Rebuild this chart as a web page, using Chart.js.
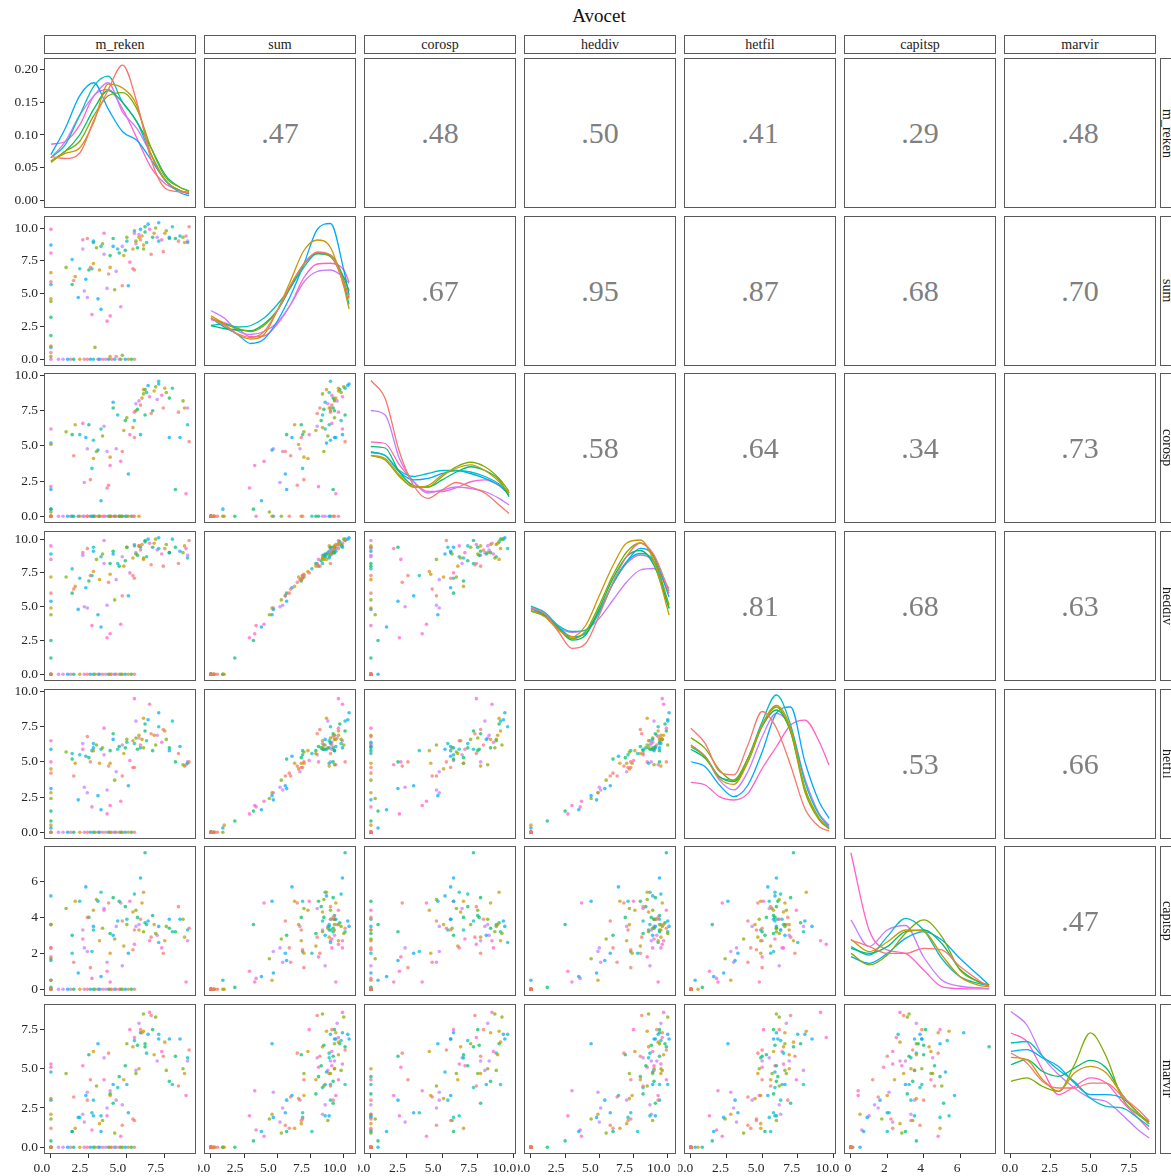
<!DOCTYPE html>
<html lang="en">
<head>
<meta charset="UTF-8">
<title>Avocet</title>
<script src="https://cdn.jsdelivr.net/npm/chart.js@4.4.1/dist/chart.umd.min.js"></script>
<style>
  body { margin: 0; background: #fff; overflow: hidden; }
  #wrap { position: relative; width: 1171px; height: 1176px; overflow: hidden; font-family: 'Liberation Serif', serif; }
  #wrap canvas { position: absolute; }
  .box { position: absolute; box-sizing: border-box; border: 1px solid #595959; pointer-events: none; z-index: 2; }
  .strip { display: flex; align-items: center; justify-content: center; font-size: 14px; color: #1a1a1a; background: #fff; }
  .vstrip { writing-mode: vertical-rl; justify-content: center; }
  .corr { position: absolute; display: flex; align-items: center; justify-content: center; font-size: 30px; color: #7f7f7f; }
  #title { position: absolute; left: 499px; width: 200px; top: 5px; text-align: center; font-size: 19px; color: #111; }
</style>
</head>
<body>
<div id="wrap"><div id="title">Avocet</div></div>

<script>
// groups (ggplot hue palette, 8 levels)
const groupColors = ['#F8766D', '#CD9600', '#7CAE00', '#00BE67', '#00BFC4', '#00A9FF', '#C77CFF', '#FF61CC'];

const varNames = ['m_reken', 'sum', 'corosp', 'heddiv', 'hetfil', 'capitsp', 'marvir'];
const varMax = [9.1, 10.4, 9.7, 10.1, 9.7, 7.6, 8.7];
const tickVals = [
    [0, 2.5, 5, 7.5], [0, 2.5, 5, 7.5, 10], [0, 2.5, 5, 7.5, 10],
    [0, 2.5, 5, 7.5, 10], [0, 2.5, 5, 7.5, 10], [0, 2, 4, 6], [0, 2.5, 5, 7.5]
];
const tickDigits = [1, 1, 1, 1, 1, 0, 1];
const xLabelShift = [-9, -9, -9, -9, -6, -3, -1];
const densTicks = [0, 0.05, 0.10, 0.15, 0.20];

// upper triangle, row by row
const corrText = ['.47', '.48', '.50', '.41', '.29', '.48',
                  '.67', '.95', '.87', '.68', '.70',
                  '.58', '.64', '.34', '.73',
                  '.81', '.68', '.63',
                  '.53', '.66',
                  '.47'];

// observations (estimated from the scatter panels)
const grp = [7,6,6,5,3,1,7,0,5,4,2,7,5,0,6,3,1,7,4,0,6,2,5,1,3,0,7,2,
    7,5,7,1,0,5,1,2,3,3,1,5,0,2,
    4,6,0,5,1,7,3,2,6,4,0,5,7,3,1,
    0,1,2,3,4,5,6,7,0,1,2,3,4,5,6,7,0,1,2,3,4,5,6,7,0,1,2,3,4,5,6,7,0,1,2,3,4,5,6,7,
    0,1,2,3,4,5,6,7,0,1,2,3,4,5,6,7,0,1,2,3,4,5,6,7,0,1,2,3,4,5,0,6,7,3,5,1,4];
const mReken = [0,0.5,0.8,1.1,1.5,1.9,2.2,2.4,2.6,2.8,2.9,3.1,3.2,3.4,3.6,3.8,3.9,4.0,4.2,4.3,4.5,4.7,4.9,5.1,5.3,5.5,1.3,4.6,
    0,0,0,0,0,0,0,0,0,0,0,0,0,0,
    1.4,2.1,2.4,2.8,3.2,3.5,3.9,4.2,4.7,5.0,5.4,1.8,2.7,4.5,5.8,
    1.5,1.6,1.0,1.4,1.9,2.3,2.4,2.1,2.6,2.8,3.0,2.5,3.3,3.1,3.5,3.7,3.8,3.9,3.4,4.1,2.8,4.1,4.3,4.6,4.7,4.8,5.0,4.9,4.4,5.1,3.7,5.2,5.5,5.4,5.6,5.7,2.7,3.3,2.2,3.9,
    5.9,6.0,6.1,6.2,6.3,6.4,5.8,6.5,6.6,6.8,6.9,6.7,7.1,7.1,7.0,7.3,7.4,7.5,7.6,7.8,8.0,8.5,9.0,8.9,9.1,8.8,8.7,8.2,9.0,7.8,8.4,5.6,5.5,6.2,5.9,6.1,5.5];
const sumScore = [0,0,0,0,0,0,0,0,0,0,0.9,0,0,0,0,0,0.2,0,0,0.2,0,0.3,0,0,0,0,0,0,
    9.9,8.7,8.1,6.6,5.9,5.7,4.6,4.4,3.2,1.8,1.0,0.9,0.5,0.2,
    7.6,8.4,9.2,8.9,6.8,9.6,7.9,5.3,8.6,9.0,6.9,4.7,3.4,8.1,9.3,
    6.0,6.3,7.0,5.7,6.9,6.1,4.7,9.1,7.0,7.3,8.5,6.8,8.6,4.6,8.0,2.9,6.5,7.0,8.8,9.2,9.0,8.6,6.7,4.0,5.6,7.9,9.3,8.3,8.4,5.6,5.4,7.4,6.8,8.4,9.0,8.5,6.9,3.8,5.2,3.3,
    9.1,9.4,8.4,9.7,8.9,10.3,9.5,9.9,8.0,9.6,10.0,9.3,9.0,10.4,9.3,9.1,8.2,9.6,9.8,9.2,10.1,9.4,9.0,9.4,10.1,8.9,9.3,9.2,8.9,9.3,9.0,8.8,9.6,10.1,9.9,8.7,9.8];
const corosp = [0,0,0,0,0,0,0,0,0,0,0,0,0,0,0,0,0,0,0,0,0,0,0,0,0,0,0,0,
    6.2,5.2,2.1,5.1,0,1.9,0,0.3,0.5,0,0,0.5,0,0,
    0,0,0,0,0,0,0,0,0,0,0,0,0,0,0,
    4.3,6.5,6.0,5.8,5.8,5.6,4.8,6.6,2.6,4.1,4.6,6.5,6.2,4.7,6.4,2.0,2.2,4.2,5.7,7.7,5.4,8.1,4.8,3.9,4.6,6.1,7.0,6.8,7.2,3.0,4.6,5.8,5.6,6.3,7.5,7.6,3.4,1.1,2.4,3.6,
    7.9,8.4,8.7,9.0,8.8,9.3,8.2,8.5,7.3,8.9,9.2,7.5,9.6,9.4,8.3,8.6,7.7,9.1,8.8,8.4,9.1,5.6,7.7,1.6,5.3,7.7,8.2,1.9,6.5,5.6,7.4,8.0,7.4,7.2,5.8,9.0,6.8];
const heddiv = [0,0,0,0,0,0,0,0,0,0,0,0,0,0,0,0,0,0,0,0,0,0,0,0,0,0,0,0,
    9.5,8.9,8.5,7.2,6.0,5.4,4.9,4.4,2.5,1.2,0,0,0,0,
    7.8,8.8,9.3,9.1,7.0,9.9,8.2,5.5,8.7,9.4,7.3,4.8,3.6,8.0,9.5,
    6.3,6.5,7.2,6.0,7.1,6.4,4.9,9.0,7.3,7.6,8.5,6.9,8.7,4.4,8.2,2.7,6.8,7.4,8.9,9.1,9.4,8.9,7.0,3.7,5.8,8.0,9.4,8.4,8.2,5.8,5.1,7.5,7.1,8.6,8.9,8.8,7.3,3.5,5.0,3.0,
    9.2,9.6,8.6,9.8,8.7,10.0,9.5,9.7,8.1,9.7,10.0,9.4,9.3,10.1,9.2,8.9,8.0,9.3,9.6,9.0,10.0,9.1,8.8,9.3,9.9,9.5,9.0,9.4,8.6,9.0,8.2,9.0,9.6,9.9,9.4,8.5,9.5];
const hetfil = [0,0,0,0,0,0,0,0,0,0,0,0,0,0,0,0,0,0,0,0,0,0,0,0,0,0,0,0,
    6.5,5.9,5.0,4.5,4.2,3.1,2.8,2.4,1.5,0.8,0.5,0.3,0,0,
    5.6,6.3,6.8,6.0,4.9,7.4,5.8,3.7,6.2,6.4,4.6,2.3,1.8,6.1,6.9,
    4.0,4.9,5.7,5.2,5.5,5.4,2.8,5.9,5.0,5.8,6.2,5.3,5.9,2.6,5.5,1.3,4.7,4.9,6.0,7.0,6.3,6.6,4.3,2.2,4.0,5.6,6.6,6.0,5.9,3.3,3.0,5.1,4.6,6.5,6.7,5.9,5.8,1.6,3.2,1.9,
    6.2,6.6,6.0,7.7,6.5,8.0,6.7,9.1,7.0,6.9,6.2,5.8,7.5,8.5,6.9,6.4,7.3,7.2,6.6,6.0,7.9,6.1,5.0,4.8,5.0,4.7,4.8,5.0,4.9,5.8,5.6,7.9,9.5,7.2,6.0,8.1,6.3];
const capitsp = [0,0,0,0,0,0,0,0,0,0,0,0,0,0,0,0,0,0,0,0,0,0,0,0,0,0,0,0,
    2.3,5.2,1.8,3.6,2.3,1.6,0.5,1.7,3.6,0.1,0,0.5,0,0,
    2.0,3.3,4.0,3.5,2.7,4.4,3.1,2.8,1.3,3.9,2.2,0.9,0.6,4.9,3.3,
    1.5,4.9,4.5,3.0,4.9,5.7,2.1,2.8,1.2,4.4,5.0,4.0,5.4,4.9,4.5,1.0,4.8,2.0,3.4,5.1,3.3,3.0,3.5,4.8,3.8,2.4,3.6,4.6,3.8,2.0,1.5,4.9,3.3,4.3,4.4,4.0,2.1,0.7,2.3,0.4,
    3.9,4.8,3.2,3.7,3.6,3.8,3.6,2.7,2.9,3.6,3.1,4.1,2.6,3.5,3.0,2.3,2.0,2.7,3.5,3.4,3.2,3.9,2.7,0.4,3.4,2.9,3.9,3.2,3.3,3.9,4.6,3.5,2.5,7.6,6.2,5.4,5.3];
const marvir = [0,0,0,0,0,0,0,0,0,0,0,0,0,0,0,0,0,0,0,0,0,0,0,0,0,0,0,0,
    5.3,4.8,5.1,3.1,1.2,3.0,2.1,1.8,0.4,0,0,0,0,0,
    1.0,2.1,3.0,2.0,1.5,4.3,3.4,0.9,2.7,4.0,1.8,1.9,1.1,4.5,5.0,
    3.2,1.2,4.7,1.0,1.9,3.3,3.5,5.2,4.3,6.1,3.9,5.9,2.0,6.6,5.7,2.0,6.0,3.3,1.7,2.8,3.0,4.0,3.0,0.7,1.4,4.3,6.6,5.2,3.8,2.2,2.5,7.5,1.7,6.4,4.7,6.5,2.2,1.0,1.6,3.6,
    7.5,7.3,8.5,6.6,6.0,7.2,7.9,8.6,8.4,5.9,8.3,7.5,7.2,6.9,5.5,6.1,5.8,6.7,4.9,4.2,4.0,6.9,5.5,3.3,6.2,4.7,5.0,5.8,5.7,6.9,3.9,4.9,7.0,6.4,7.3,7.4,6.8];
const vars = [mReken, sumScore, corosp, heddiv, hetfil, capitsp, marvir];

// density curves on the diagonal
// m_reken in density units; the others in relative panel height (0 = bottom, 100 = top)
const densX = [
    [0, 0.94, 1.89, 2.83, 3.77, 4.72, 5.66, 6.6, 7.55, 8.49, 9.1],
    [0, 1, 2, 3, 4, 5, 6, 7, 8, 9, 10, 10.4],
    [0, 1, 2, 3, 4, 5, 6, 7, 8, 9, 9.7],
    [0, 1, 2, 3, 4, 5, 6, 7, 8, 9, 10.1],
    [0, 1, 2, 3, 4, 5, 6, 7, 8, 9, 9.7],
    [0, 1, 2, 3, 4, 5, 6, 7, 7.6],
    [0, 1, 2, 3, 4, 5, 6, 7, 8, 8.7]
];
const densMReken = [
    [.067, .064, .072, .123, .169, .207, .150, .062, .018, .013, .012],
    [.060, .072, .080, .120, .178, .172, .145, .070, .030, .015, .012],
    [.058, .075, .090, .130, .160, .165, .140, .080, .035, .020, .014],
    [.060, .075, .100, .140, .168, .150, .120, .080, .038, .020, .014],
    [.065, .085, .130, .175, .190, .150, .120, .070, .030, .015, .010],
    [.070, .110, .160, .180, .140, .105, .092, .062, .030, .012, .007],
    [.065, .090, .130, .160, .180, .135, .110, .070, .030, .015, .010],
    [.086, .090, .115, .160, .170, .140, .095, .050, .025, .015, .010]
];
const densSum = [
    [32, 27, 21.5, 19, 23, 37, 54, 68, 76, 74, 55, 46],
    [33.5, 28, 21, 18, 21, 37, 57, 77, 84, 79, 53, 38],
    [32, 28, 25, 23, 27, 37, 54, 68, 75.5, 73, 57, 45],
    [27, 25, 24, 23.5, 28, 37, 52.5, 68, 75, 74, 59, 50],
    [27, 28, 26, 27, 32, 41, 52.5, 66, 75, 73, 55, 41],
    [32, 26, 21, 15, 18, 30, 47, 68, 91, 95, 64, 47],
    [37, 32, 23.5, 21, 23, 29, 41, 56, 63, 64, 59, 55],
    [31, 29, 25, 19.5, 20, 28, 41, 59, 68, 68.5, 64, 56]
];
const densCorosp = [
    [95, 83, 47.5, 25, 16.4, 22, 27, 24, 20, 12, 6.4],
    [45, 43, 32, 24, 25, 32, 36.5, 38.7, 35, 27.5, 20],
    [45, 42, 31, 24, 24, 31, 37.5, 40.5, 37.5, 29.7, 21],
    [51, 50, 34, 25, 24, 28.7, 34, 37.5, 35, 28.7, 17.5],
    [47.5, 45, 35, 31, 33, 35, 35, 34, 31, 26, 20],
    [47, 45, 34, 28.7, 29.7, 33, 35, 33, 29.7, 25, 18.7],
    [75, 72, 43, 27.5, 20, 22, 24, 23, 21, 16.4, 12],
    [54, 53, 38.7, 27.5, 21, 21, 23.5, 27.5, 28.7, 25, 20]
];
const densHeddiv = [
    [48.4, 45, 33, 21.8, 25, 44, 66, 83, 92, 84, 60],
    [47, 43, 34, 29.5, 37, 57, 77, 92, 94, 79.5, 44],
    [46.5, 43, 35, 28.4, 33, 50.6, 70.6, 86, 92, 82, 50.6],
    [47, 43.5, 35, 27.3, 30.7, 48.4, 68.4, 83, 87, 77, 48.4],
    [50, 45.8, 37, 33, 34, 46, 65, 79.5, 85, 79.5, 48.4],
    [48.4, 44, 36, 29.5, 31.7, 46, 65, 79.5, 88.4, 83, 56],
    [48, 44.5, 36, 32.4, 34, 41.8, 54, 66, 74, 75, 61.8],
    [49.5, 45, 36, 28, 33, 47, 65, 78.4, 84, 79.5, 58.4]
];
const densHetfil = [
    [73.8, 63.8, 45, 42.7, 62.7, 85, 74, 49, 20.4, 8.2, 5.3],
    [62.7, 55, 40.4, 36.4, 51.5, 76, 89, 73.8, 33.8, 13.8, 7.1],
    [67.5, 60.4, 46, 39, 53.8, 76, 88, 71.5, 31.5, 12.7, 6.7],
    [59.8, 53.8, 41.5, 38.2, 51.5, 75, 86, 71.5, 33.8, 13.8, 7.1],
    [61.5, 55, 41.5, 39.3, 53.8, 78.2, 96, 76, 38.2, 16, 8.2],
    [51.5, 48.2, 36, 28.2, 36, 58, 84, 88, 51.5, 24.9, 13.8],
    [62.7, 55, 39.3, 32.7, 45, 68.2, 83.8, 73.8, 40.4, 17, 9.3],
    [37.8, 36, 28.2, 26, 30.4, 47, 61.5, 76, 79.3, 65, 49.3]
];
const densCapitsp = [
    [37.3, 33, 28.4, 28.4, 31.8, 30.7, 19.6, 10.7, 6.2],
    [37.8, 29.6, 36, 44, 43, 27.3, 12.9, 7.3, 6.2],
    [28.4, 20.7, 27.3, 41.8, 50.7, 39.6, 17.3, 9.6, 7.3],
    [31.8, 28.4, 32.9, 42.9, 44, 35, 17.8, 9.6, 7.3],
    [32.9, 27.3, 39.6, 51.8, 44, 25, 12.9, 8.4, 6.9],
    [26.2, 21.8, 28.4, 38.4, 42.9, 37.3, 25, 14, 7.3],
    [50.7, 33, 44, 47, 26, 10.7, 6.5, 5.6, 4.9],
    [95.5, 44, 30.7, 28.4, 17.3, 6.2, 4.9, 4.7, 4.7]
];
const densMarvir = [
    [67.3, 60.7, 48.4, 44, 44, 47.3, 47.3, 38.4, 29.6, 22.2],
    [64.4, 62.9, 49.6, 41.8, 54, 58.4, 54, 39.6, 27.3, 20],
    [48.4, 50.7, 45, 41.8, 59.5, 80.7, 65, 37.3, 26.2, 21.3],
    [59.5, 62.9, 55, 51.8, 57.3, 62.4, 57.3, 39.6, 27.3, 21.3],
    [74, 75, 65, 56, 48.4, 37.3, 31.8, 30.7, 24, 18.4],
    [68.4, 69.6, 64, 58.4, 47.3, 39.6, 39.6, 37.3, 27.3, 20],
    [95, 86, 65, 53, 44, 37.3, 35, 26.2, 16.2, 10.7],
    [80.7, 75, 56, 39.6, 45, 50.7, 47.3, 35, 24, 16.2]
];
const densY = [densMReken, densSum, densCorosp, densHeddiv, densHetfil, densCapitsp, densMarvir];

// layout of the 7x7 grid
const colLeft = [44, 204, 364, 524, 684, 844, 1004];
const rowTop = [58, 216, 373, 531, 689, 846, 1004];
const panelW = 152, panelH = 150;

const wrap = document.getElementById('wrap');

function addDiv(cls, x, y, w, h, text) {
    const d = document.createElement('div');
    d.className = cls;
    d.style.left = x + 'px';
    d.style.top = y + 'px';
    d.style.width = w + 'px';
    d.style.height = h + 'px';
    if (text) d.textContent = text;
    wrap.appendChild(d);
    return d;
}

function axis(show, min, max, ticks, digits, isX, shift) {
    return {
        type: 'linear',
        display: show,
        min: min,
        max: max,
        afterBuildTicks: ax => { ax.ticks = ticks.map(v => ({ value: v })); },
        afterFit: ax => {
            if (!show) return;
            if (isX) ax.height = 24; else ax.width = 44;
            ax.paddingLeft = 0; ax.paddingRight = 0; ax.paddingTop = 0; ax.paddingBottom = 0;
        },
        grid: { drawOnChartArea: false, drawTicks: true, tickLength: 4, color: '#333', lineWidth: 1 },
        border: { display: false },
        ticks: {
            autoSkip: false,
            maxRotation: 0,
            padding: 2,
            labelOffset: shift || 0,
            color: '#262626',
            font: { family: 'Liberation Serif', size: 13.5 },
            callback: v => Number(v).toFixed(digits)
        }
    };
}

function varAxis(v, show, isX) {
    const m = varMax[v];
    return axis(show, -0.05 * m, 1.05 * m, tickVals[v], tickDigits[v], isX, isX ? xLabelShift[v] : 0);
}

function panelChart(r, c, datasets, xOpts, yOpts) {
    const padL = c === 0 ? 44 : 6, padR = 6, padT = 10, padB = r === 6 ? 24 : 6;
    const w = panelW + padL + padR, h = panelH + padT + padB;
    const cv = document.createElement('canvas');
    cv.width = w; cv.height = h;
    cv.style.left = (colLeft[c] - padL) + 'px';
    cv.style.top = (rowTop[r] - padT) + 'px';
    cv.style.width = w + 'px';
    cv.style.height = h + 'px';
    wrap.appendChild(cv);
    new Chart(cv, {
        type: 'scatter',
        data: { datasets: datasets },
        options: {
            responsive: false,
            animation: false,
            events: [],
            layout: { padding: { left: c === 0 ? 0 : padL, right: padR, top: padT, bottom: r === 6 ? 0 : padB } },
            plugins: { legend: { display: false }, tooltip: { enabled: false } },
            scales: { x: xOpts, y: yOpts }
        }
    });
}

// strips
varNames.forEach((name, i) => {
    addDiv('box strip', colLeft[i], 35, panelW, 19, name);
    addDiv('box strip vstrip', 1160, rowTop[i], 13, panelH, name);
});

let k = 0;
for (let r = 0; r < 7; r++) {
    for (let c = 0; c < 7; c++) {
        const showX = r === 6, showY = c === 0;
        if (r < c) {
            addDiv('corr', colLeft[c], rowTop[r], panelW, panelH, corrText[k++]);
        } else if (r === c) {
            const xs = densX[c];
            const datasets = densY[c].map((ys, g) => ({
                data: xs.map((x, i) => ({ x: x, y: ys[i] })),
                showLine: true,
                borderColor: groupColors[g],
                borderWidth: 1.3,
                pointRadius: 0,
                cubicInterpolationMode: 'monotone',
                fill: false
            }));
            const yOpts = r === 0
                ? axis(true, -0.0118, 0.2179, densTicks, 2, false, 0)
                : axis(false, 0, 100, [], 0, false, 0);
            panelChart(r, c, datasets, varAxis(c, showX, true), yOpts);
        } else {
            const datasets = groupColors.map((col, g) => {
                const pts = [];
                for (let i = 0; i < grp.length; i++) {
                    if (grp[i] === g) pts.push({ x: vars[c][i], y: vars[r][i] });
                }
                return {
                    data: pts,
                    backgroundColor: col + 'B8',
                    borderWidth: 0,
                    pointRadius: 1.8
                };
            });
            panelChart(r, c, datasets, varAxis(c, showX, true), varAxis(r, showY, false));
        }
        addDiv('box', colLeft[c], rowTop[r], panelW, panelH);
    }
}
</script>
</body>
</html>
